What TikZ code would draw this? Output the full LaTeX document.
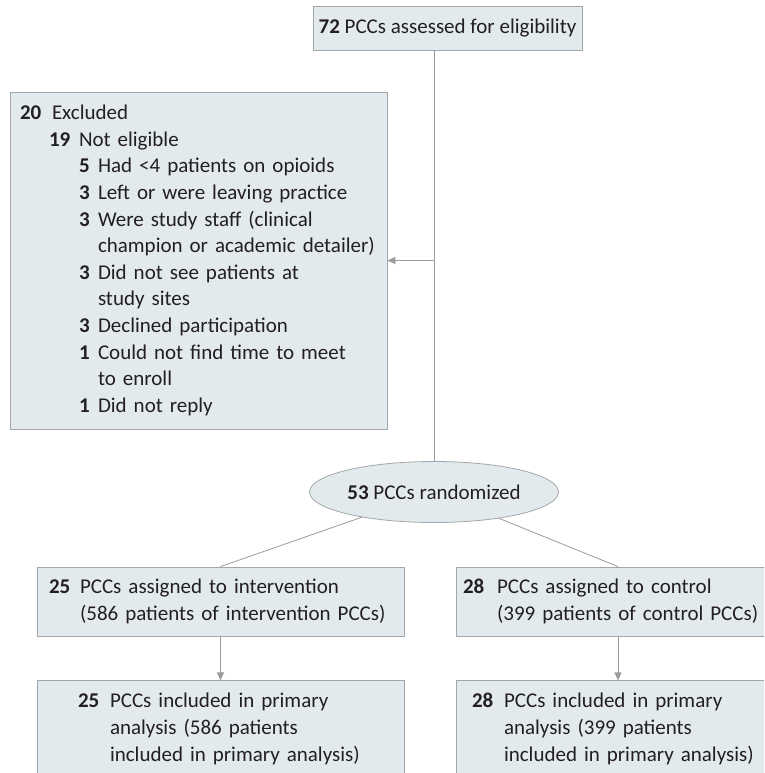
\documentclass[tikz,border=0pt]{standalone}
\usepackage{fontspec}
\setmainfont{Carlito}
\usetikzlibrary{arrows.meta,positioning,shapes.geometric}
\definecolor{boxfill}{HTML}{E3EAEE}
\definecolor{boxline}{HTML}{A3A7AB}
\definecolor{linkgray}{HTML}{9B9B9B}
\definecolor{textdark}{HTML}{231F20}
\newcommand{\cnt}[2]{\makebox[#1][l]{\bfseries #2}}

\begin{document}
\begin{tikzpicture}[
    x=1pt, y=1pt,
    font=\fontsize{21}{26.6}\selectfont, text=textdark,
    node distance=44pt,
    block/.style={draw=boxline, fill=boxfill, line width=0.8pt, inner ysep=0pt},
    arrow/.style={-{Triangle[width=7pt,length=8pt]}, draw=linkgray, line width=0.8pt},
    link/.style={draw=linkgray, line width=0.8pt}
]
\useasboundingbox (0,0) rectangle (764,-773);
\clip (0,0) rectangle (764,-773);

\node[block, align=center, minimum width=269pt, minimum height=44pt] (assess) at (447.5,-28)
    {\textbf{72} PCCs assessed for eligibility};

\node[block, align=left, inner xsep=10pt, text width=357pt, minimum height=337pt] (excl) at (198.5,-260.5)
    {\cnt{32pt}{20}Excluded\\
     \hspace*{29pt}\cnt{30pt}{19}Not eligible\\
     \hspace*{59pt}\cnt{19pt}{5}Had <4 patients on opioids\\
     \hspace*{59pt}\cnt{19pt}{3}Left or were leaving practice\\
     \hspace*{59pt}\cnt{19pt}{3}Were study staff (clinical\\
     \hspace*{78pt}champion or academic detailer)\\
     \hspace*{59pt}\cnt{19pt}{3}Did not see patients at\\
     \hspace*{78pt}study sites\\
     \hspace*{59pt}\cnt{19pt}{3}Declined participation\\
     \hspace*{59pt}\cnt{19pt}{1}Could not find time to meet\\
     \hspace*{78pt}to enroll\\
     \hspace*{59pt}\cnt{19pt}{1}Did not reply};

\node[block, ellipse, inner sep=0pt, minimum width=249pt, minimum height=61pt] (rand) at (434,-492)
    {\textbf{53} PCCs randomized};

\node[block, align=left, inner xsep=12pt, text width=343pt, minimum height=69pt] (intv) at (220.5,-601.5)
    {\cnt{31pt}{25}PCCs assigned to intervention\\
     \hspace*{31pt}(586 patients of intervention PCCs)};
\node[block, align=left, inner xsep=7pt, text width=310pt, minimum height=69pt] (ctrl) at (618,-601.5)
    {\cnt{34pt}{28}PCCs assigned to control\\
     \hspace*{34pt}(399 patients of control PCCs)};

\node[block, align=left, inner xsep=41pt, text width=285pt, minimum height=96pt, below=of intv] (intvan)
    {\cnt{32pt}{25}PCCs included in primary\\
     \hspace*{32pt}analysis (586 patients\\
     \hspace*{32pt}included in primary analysis)};
\node[block, align=left, inner xsep=16pt, text width=292pt, minimum height=96pt, below=of ctrl] (ctrlan)
    {\cnt{32pt}{28}PCCs included in primary\\
     \hspace*{32pt}analysis (399 patients\\
     \hspace*{32pt}included in primary analysis)};

\draw[link] (rand.north) -- (rand.north |- assess.south);
\draw[arrow] (rand.north |- excl.east) -- (excl.east);
\draw[link] (rand) -- (intv.north);
\draw[link] (rand) -- (ctrl.north);
\draw[arrow] (intv) -- (intvan);
\draw[arrow] (ctrl) -- (ctrlan);
\end{tikzpicture}
\end{document}
